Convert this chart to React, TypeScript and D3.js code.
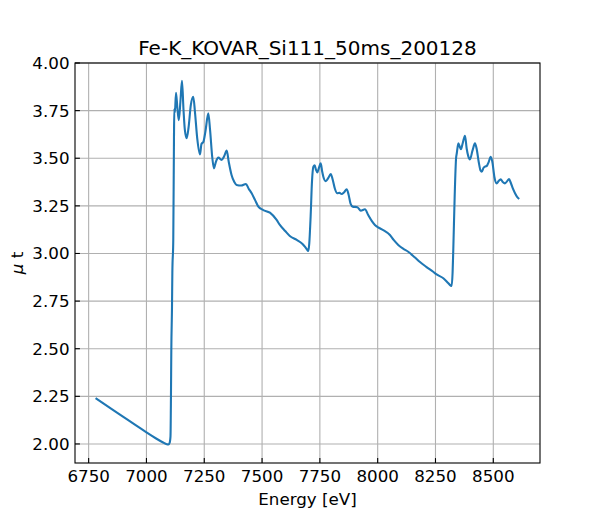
import * as d3 from 'd3';

const title = 'Fe-K_KOVAR_Si111_50ms_200128';

// spectrum (energy in eV, mu t)
const energy = [
  6780, 6850, 6900, 6950, 7000, 7040, 7070, 7088, 7095, 7100, 7104, 7106, 7107.5, 7110.5, 7112, 7116, 7119,
  7120.5, 7123, 7127.8, 7134, 7140, 7147, 7153.7, 7160, 7166, 7174, 7182, 7192, 7202.6, 7210, 7220, 7231.6,
  7238, 7246, 7255, 7267.5, 7275, 7285, 7292, 7300, 7311, 7325, 7336, 7347, 7356, 7368, 7380, 7390, 7410,
  7430, 7442, 7455, 7470, 7484, 7505, 7534, 7563, 7577, 7600, 7620, 7650, 7675, 7692, 7700, 7704, 7710, 7716,
  7722, 7727.6, 7733, 7739, 7746, 7753.6, 7760, 7765, 7775, 7786, 7797, 7805, 7815, 7825.5, 7835, 7844, 7855,
  7866, 7874, 7883, 7892, 7912, 7927, 7945, 7959, 7975, 7988, 8005, 8024, 8053, 8070, 8089, 8110, 8132, 8160,
  8183, 8210, 8240, 8255, 8284, 8305, 8316, 8320, 8324, 8327, 8333, 8339, 8342, 8349, 8355, 8360, 8368, 8377.6,
  8385, 8392, 8399, 8410, 8420.8, 8428, 8437, 8445, 8450, 8458, 8464, 8472, 8480, 8488.8, 8496, 8505, 8514.5,
  8523, 8532, 8541, 8550.6, 8560, 8568, 8576, 8585, 8594, 8603, 8612,
];
const mut = [
  2.241, 2.183, 2.142, 2.101, 2.061, 2.03, 2.009, 1.998, 1.997, 2.005, 2.04, 2.25, 2.49, 2.72, 2.9, 3.07, 3.6,
  3.76, 3.74, 3.844, 3.76, 3.7, 3.8, 3.907, 3.76, 3.65, 3.605, 3.66, 3.78, 3.823, 3.74, 3.6, 3.52,
  3.575, 3.585, 3.64, 3.736, 3.65, 3.5, 3.447, 3.48, 3.503, 3.491, 3.51, 3.54, 3.48, 3.412, 3.375, 3.36, 3.357,
  3.365, 3.34, 3.316, 3.28, 3.246, 3.228, 3.214, 3.176, 3.15, 3.118, 3.092, 3.071, 3.05, 3.025, 3.013, 3.05, 3.193, 3.38,
  3.456, 3.463, 3.44, 3.426, 3.45, 3.473, 3.43, 3.403, 3.38, 3.395, 3.417, 3.39, 3.34, 3.316, 3.318, 3.312, 3.322,
  3.337, 3.31, 3.26, 3.246, 3.243, 3.225, 3.232, 3.202, 3.17, 3.15, 3.135, 3.123, 3.097, 3.07, 3.045, 3.025, 3.009, 2.98,
  2.955, 2.93, 2.904, 2.89, 2.87, 2.845, 2.831, 2.829, 2.9, 3.02, 3.3, 3.5, 3.525, 3.578, 3.56, 3.547, 3.58, 3.618,
  3.55, 3.51, 3.494, 3.54, 3.578, 3.55, 3.48, 3.435, 3.429, 3.45, 3.456, 3.46, 3.48, 3.508, 3.48, 3.4, 3.368,
  3.38, 3.389, 3.375, 3.368, 3.38, 3.391, 3.37, 3.34, 3.316, 3.297, 3.286,
];

const xTicks = [6750, 7000, 7250, 7500, 7750, 8000, 8250, 8500];
const yTicks = [2.0, 2.25, 2.5, 2.75, 3.0, 3.25, 3.5, 3.75, 4.0];

export default function App() {
  const width = 600;
  const height = 520;
  const margin = { top: 63, right: 60, bottom: 57, left: 75 };
  const innerWidth = width - margin.left - margin.right;
  const innerHeight = height - margin.top - margin.bottom;
  const font = '"DejaVu Sans", sans-serif';

  const x = d3.scaleLinear().domain([6691, 8702]).range([0, innerWidth]);
  const y = d3.scaleLinear().domain([1.9, 4.0]).range([innerHeight, 0]);

  const points = energy.map((e, i) => [e, mut[i]] as [number, number]);
  const line = d3.line<[number, number]>()
    .x(d => x(d[0]))
    .y(d => y(d[1]))
    .curve(d3.curveMonotoneX);

  return (
    <svg
      width={width}
      height={height}
      style={{ position: 'absolute', left: 0, top: 0, background: '#fff' }}
      fontFamily={font}
    >
      <rect width={width} height={height} fill="#fff" />
      <text x={margin.left + innerWidth / 2} y={55} textAnchor="middle" fontSize={20} fill="#000">
        {title}
      </text>
      <g transform={`translate(${margin.left},${margin.top})`}>
        {/* grid */}
        {xTicks.map(t => (
          <line key={'gx' + t} x1={x(t)} x2={x(t)} y1={0} y2={innerHeight} stroke="#b0b0b0" strokeWidth={1.1} />
        ))}
        {yTicks.map(t => (
          <line key={'gy' + t} x1={0} x2={innerWidth} y1={y(t)} y2={y(t)} stroke="#b0b0b0" strokeWidth={1.1} />
        ))}

        <path d={line(points) ?? ''} fill="none" stroke="#1f77b4" strokeWidth={2.1} strokeLinejoin="round" />

        {/* ticks (inward) and labels */}
        {xTicks.map(t => (
          <g key={'tx' + t}>
            <line x1={x(t)} x2={x(t)} y1={innerHeight} y2={innerHeight - 4.9} stroke="#000" strokeWidth={1.1} />
            <text x={x(t)} y={innerHeight + 19} textAnchor="middle" fontSize={16.7} fill="#000">
              {t}
            </text>
          </g>
        ))}
        {yTicks.map(t => (
          <g key={'ty' + t}>
            <line x1={0} x2={4.9} y1={y(t)} y2={y(t)} stroke="#000" strokeWidth={1.1} />
            <text x={-5.5} y={y(t)} dy="0.36em" textAnchor="end" fontSize={16.7} fill="#000">
              {t.toFixed(2)}
            </text>
          </g>
        ))}

        <rect x={0} y={0} width={innerWidth} height={innerHeight} fill="none" stroke="#000" strokeWidth={1.1} />

        <text x={innerWidth / 2} y={innerHeight + 42} textAnchor="middle" fontSize={16.7} fill="#000">
          Energy [eV]
        </text>
        <text
          transform={`translate(${-52},${innerHeight / 2}) rotate(-90)`}
          textAnchor="middle"
          fontSize={16.7}
          fill="#000"
        >
          <tspan fontStyle="italic">μ</tspan>
          <tspan> t</tspan>
        </text>
      </g>
    </svg>
  );
}
